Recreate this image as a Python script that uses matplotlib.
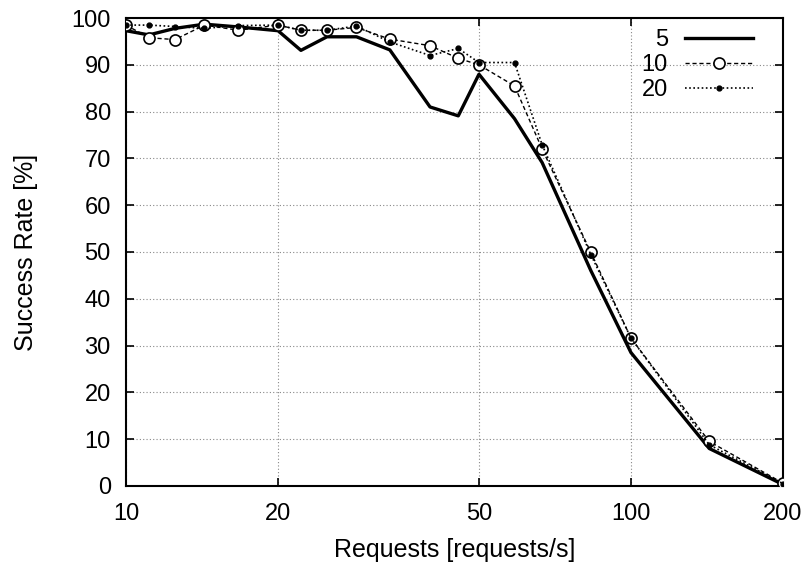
import numpy as np
import matplotlib.pyplot as plt
from matplotlib.ticker import FixedLocator, NullLocator, FixedFormatter

plt.rcParams['font.family'] = ['Liberation Sans', 'DejaVu Sans']

# request rates (1000 / interval in ms)
rate = [10, 11.1, 12.5, 14.3, 16.7, 20, 22.2, 25, 28.6, 33.3, 40, 45.5, 50,
        58.8, 66.7, 83.3, 100, 142.9, 200]

# success rate [%] per series
s5 = [97.3, 96.4, 97.8, 98.7, 98.1, 97.3, 93.1, 96.0, 96.0, 93.2, 81.0, 79.1,
      88.0, 78.5, 69.1, 46.0, 28.5, 8.0, 0.3]
s10 = [98.5, 95.8, 95.4, 98.5, 97.4, 98.5, 97.4, 97.4, 98.0, 95.5, 94.1, 91.4,
       90.0, 85.5, 72.0, 49.9, 31.6, 9.5, 0.6]
s20 = [98.5, 98.5, 98.2, 97.8, 98.4, 98.5, 97.4, 97.4, 98.3, 94.9, 92.0, 93.5,
       90.5, 90.5, 72.9, 49.4, 31.6, 8.8, 0.5]

x_ticks = [10, 20, 50, 100, 200]
y_ticks = list(range(0, 101, 10))

fig = plt.figure(figsize=(8.08, 5.65), dpi=100)
ax = fig.add_axes([0.156, 0.140, 0.813, 0.828])

ax.plot(rate, s5, color='black', lw=2.4, ls='-', label='5', zorder=3)
ax.plot(rate, s10, color='black', lw=1.0, ls=(0, (3, 2)), marker='o',
        ms=8, mfc='white', mec='black', mew=1.2, label='10', zorder=4)
ax.plot(rate, s20, color='black', lw=1.2, ls=(0, (1, 1.5)), marker='o',
        ms=3.5, mfc='black', mec='black', label='20', zorder=5)

ax.set_xscale('log')
ax.set_xlim(10, 200)
ax.set_ylim(0, 100)
ax.xaxis.set_major_locator(FixedLocator(x_ticks))
ax.xaxis.set_major_formatter(FixedFormatter([str(t) for t in x_ticks]))
ax.xaxis.set_minor_locator(NullLocator())
ax.set_yticks(y_ticks)

ax.grid(True, which='major', color='#888888', ls=(0, (1, 2)), lw=0.8)
ax.tick_params(direction='in', length=6, width=1.2, labelsize=17,
               top=True, right=True)
ax.tick_params(axis='x', pad=12)
ax.tick_params(axis='y', pad=11)
for sp in ax.spines.values():
    sp.set_linewidth(1.5)

ax.set_xlabel('Requests [requests/s]', fontsize=18, labelpad=10)
ax.set_ylabel('Success Rate [%]', fontsize=18, labelpad=24)

ax.legend(loc='upper right', bbox_to_anchor=(0.954, 0.976), frameon=False,
          markerfirst=False, fontsize=17, handlelength=2.85,
          labelspacing=0.12, handletextpad=0.75, borderaxespad=0.0,
          borderpad=0.0)

fig.savefig('out.png', dpi=100)
